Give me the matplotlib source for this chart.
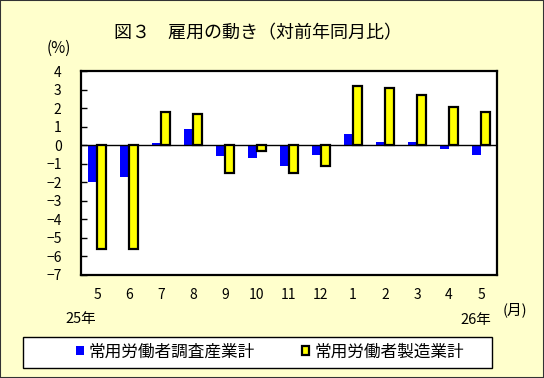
import numpy as np
import matplotlib
matplotlib.use("Agg")
import matplotlib.pyplot as plt
from matplotlib.patches import Rectangle

plt.rcParams['font.family'] = ['Noto Sans CJK JP', 'DejaVu Sans']

# --- data ---
months = ['5', '6', '7', '8', '9', '10', '11', '12', '1', '2', '3', '4', '5']
all_industries = [-2.0, -1.7, 0.1, 0.9, -0.6, -0.7, -1.1, -0.5, 0.6, 0.2, 0.2, -0.2, -0.5]
manufacturing = [-5.6, -5.6, 1.8, 1.7, -1.5, -0.3, -1.5, -1.1, 3.2, 3.1, 2.7, 2.1, 1.8]
y_ticks = list(range(-7, 5))
label_all = '常用労働者調査産業計'
label_mfg = '常用労働者製造業計'

BG = '#FFFFCC'

fig = plt.figure(figsize=(5.44, 3.78), dpi=100, facecolor=BG)
ax = fig.add_axes([81 / 544, 1 - 274.5 / 378, 416 / 544, 203 / 378])
ax.set_facecolor('white')

x = np.arange(len(months))
w = 0.27
b1 = ax.bar(x - w / 2, all_industries, width=w, color='#0000FF', edgecolor='none', zorder=2)
b2 = ax.bar(x + w / 2, manufacturing, width=w, color='#FFFF00', edgecolor='black', linewidth=1.6, zorder=3)
ax.axhline(0, color='black', linewidth=1, zorder=2.5)

ax.set_xlim(-0.5, len(months) - 0.5)
ax.set_ylim(-7, 4)
ax.set_yticks(y_ticks)
ax.set_xticks(x)
ax.set_xticklabels(months)
ax.tick_params(axis='y', direction='in', length=4, width=1, labelsize=10, pad=14)
ax.tick_params(axis='x', length=0, labelsize=10, pad=10)
for s in ax.spines.values():
    s.set_linewidth(1.6)

# --- texts ---
fig.text(258 / 544, 1 - 33 / 378, '図３　雇用の動き（対前年同月比）', ha='center', va='center', fontsize=13)
fig.text(59 / 544, 1 - 48 / 378, '(%)', ha='center', va='center', fontsize=11)
fig.text(80.5 / 544, 1 - 319 / 378, '25年', ha='center', va='center', fontsize=10.5)
fig.text(476 / 544, 1 - 320 / 378, '26年', ha='center', va='center', fontsize=10.5)
fig.text(515 / 544, 1 - 310 / 378, '(月)', ha='center', va='center', fontsize=10.5)

# --- legend box ---
fig.patches.append(Rectangle((23 / 544, 1 - 368 / 378), 469 / 544, 31 / 378,
                             transform=fig.transFigure, facecolor='white',
                             edgecolor='black', linewidth=1, zorder=1))
fig.legend([b1, b2], [label_all, label_mfg], loc='center left',
           bbox_to_anchor=(68 / 544, 1 - 352 / 378), ncol=2, frameon=False,
           fontsize=12, handlelength=0.45, handleheight=0.45,
           handletextpad=0.3, columnspacing=2.8, borderpad=0)

# outer border
fig.patches.append(Rectangle((0, 0), 1, 1, transform=fig.transFigure,
                             facecolor='none', edgecolor='#333333', linewidth=1.5, zorder=5))

fig.savefig('out.png', dpi=100, facecolor=BG)
